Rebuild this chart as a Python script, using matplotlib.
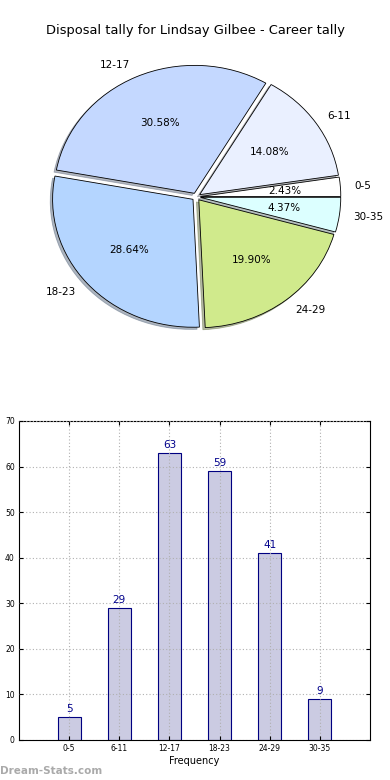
import matplotlib
matplotlib.use("Agg")
import matplotlib.pyplot as plt

# data
groups = ["0-5", "6-11", "12-17", "18-23", "24-29", "30-35"]
counts = [5, 29, 63, 59, 41, 9]
pie_colors = ["#ffffff", "#eaf0ff", "#c4d8ff", "#b4d5ff", "#d0ea8c", "#dcffff"]
yticks = [0, 10, 20, 30, 40, 50, 60, 70]

fig = plt.figure(figsize=(3.9, 7.8), dpi=100)
fig.patch.set_facecolor("white")

# 1. pie chart
ax1 = fig.add_axes([0.053, 0.5427, 0.9, 0.41])
wedges, texts, autotexts = ax1.pie(counts, labels=groups, colors=pie_colors,
                                   explode=[0.03] * len(counts), autopct="%1.2f%%",
                                   shadow={"ox": -0.012, "oy": -0.012, "shade": 0.5},
                                   startangle=0,
                                   wedgeprops={"edgecolor": "black", "linewidth": 0.6},
                                   textprops={"fontsize": 7.5})
ax1.set_aspect("auto")
ax1.set_xlim(-1.25, 1.25)
ax1.set_ylim(-1.25, 1.25)
fig.text(0.5, 0.961, "Disposal tally for Lindsay Gilbee - Career tally",
         ha="center", va="center", fontsize=9.4)

# 2. bar chart
ax2 = fig.add_axes([0.0487, 0.0513, 0.9, 0.409])
x = list(range(len(groups)))
bars = ax2.bar(x, counts, width=0.46, color="#cbcbe2", edgecolor="#000080",
               linewidth=0.8, zorder=1)
for xi, c in zip(x, counts):
    ax2.text(xi, c + 0.7, str(c), ha="center", va="bottom", color="#00008b", fontsize=7.5)
ax2.set_xlim(-1, 6)
ax2.set_ylim(0, 70)
ax2.set_xticks(x)
ax2.set_xticklabels(groups)
ax2.set_yticks(yticks)
ax2.tick_params(labelsize=5.5, direction="in", top=True, right=True, length=3, pad=3)
ax2.grid(True, color="#b0b0b0", linestyle=(0, (1, 2)), linewidth=0.8, zorder=3)
ax2.set_axisbelow(False)
ax2.set_xlabel("Frequency", fontsize=7, labelpad=2)

fig.text(0.0, 0.012, "Dream-Stats.com", color="#aaaaaa", fontsize=7.5,
         fontweight="bold", ha="left", va="center")

plt.savefig("out.png", dpi=100)
